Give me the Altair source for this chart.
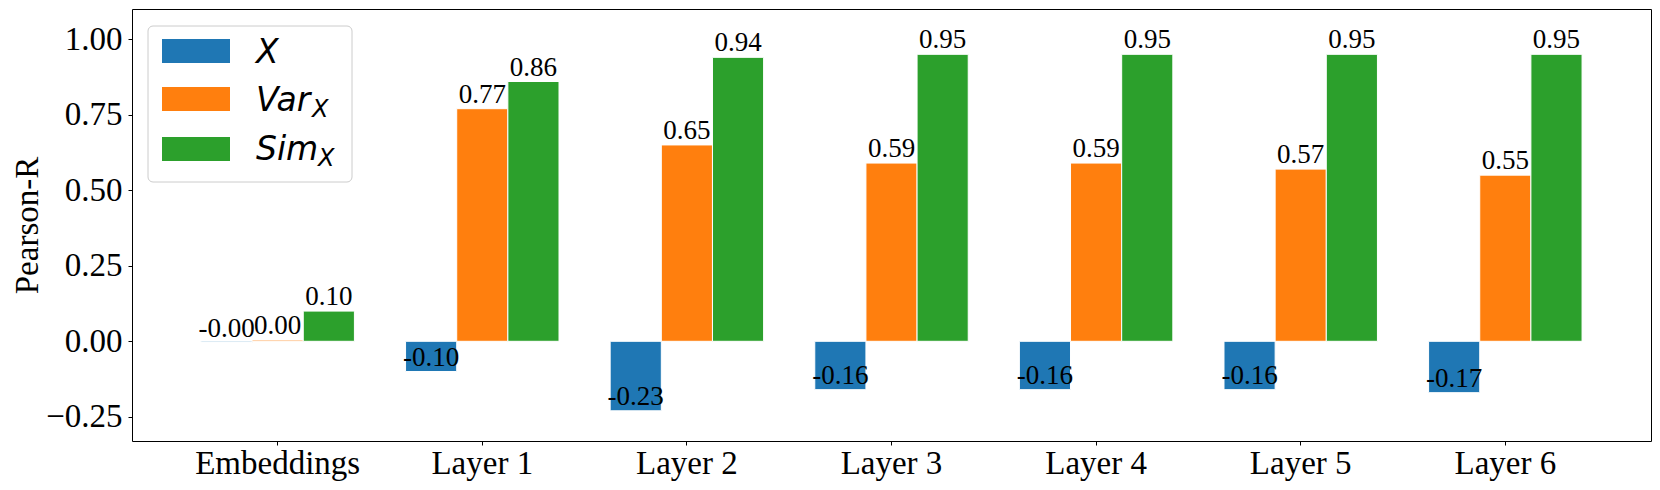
import altair as alt
import pandas as pd

categories = ["Embeddings", "Layer 1", "Layer 2", "Layer 3", "Layer 4", "Layer 5", "Layer 6"]
series = ["X", "Var_X", "Sim_X"]
colors = ["#1f77b4", "#ff7f0e", "#2ca02c"]
x_vals = [-0.004, -0.10, -0.23, -0.16, -0.16, -0.16, -0.17]
var_vals = [0.004, 0.77, 0.65, 0.59, 0.59, 0.57, 0.55]
sim_vals = [0.10, 0.86, 0.94, 0.95, 0.95, 0.95, 0.95]
y_ticks = [-0.25, 0.0, 0.25, 0.5, 0.75, 1.0]

rows = []
for s, vals in zip(series, [x_vals, var_vals, sim_vals]):
    for c, v in zip(categories, vals):
        rows.append({"layer": c, "series": s, "value": v, "label": "%.2f" % v})
df = pd.DataFrame(rows)

SERIF = "Liberation Serif"

x_enc = alt.X("layer:N", sort=categories,
              scale=alt.Scale(paddingInner=0.25, paddingOuter=0.337),
              axis=alt.Axis(title=None, labelAngle=0, tickSize=4, labelPadding=2,
                            labelFontSize=33, labelFont=SERIF))
xoff = alt.XOffset("series:N", sort=series)
y_enc = alt.Y("value:Q", scale=alt.Scale(domain=[-0.33, 1.1], nice=False, zero=False),
              axis=alt.Axis(values=y_ticks, format=".2f", title="Pearson-R",
                            tickSize=4, labelPadding=6, labelFontSize=33, labelFont=SERIF,
                            titleFont=SERIF, titleFontSize=33, titleFontWeight="normal",
                            titleAngle=-90, titleX=-95, titleY=216,
                            titleBaseline="alphabetic", titleAlign="center",
                            titleColor="black"))
color_enc = alt.Color("series:N", sort=series,
                      scale=alt.Scale(domain=series, range=colors), legend=None)

bars = alt.Chart(df).mark_bar(stroke="white", strokeWidth=1).encode(
    x=x_enc, xOffset=xoff, y=y_enc, y2=alt.datum(0), color=color_enc)

labels = alt.Chart(df).mark_text(font=SERIF, fontSize=27, color="black",
                                 baseline="alphabetic", align="center", dy=-6).encode(
    x=x_enc, xOffset=xoff, y=alt.Y("value:Q"), text="label:N")

one = pd.DataFrame({"k": [0]})
leg_box = alt.Chart(one).mark_rect(fill="white", fillOpacity=0.8, stroke="#cccccc",
                                   strokeWidth=1, cornerRadius=5).encode(
    x=alt.value(16), x2=alt.value(220), y=alt.value(17), y2=alt.value(173))

legend_layers = [leg_box]
sw_y = [(30, 54), (78, 102), (128, 152)]
main_txt = ["X", "Var", "Sim"]
base_y = [54, 102, 151]
sub_x = [None, 180, 186]
for i in range(3):
    legend_layers.append(alt.Chart(one).mark_rect(color=colors[i]).encode(
        x=alt.value(30), x2=alt.value(98), y=alt.value(sw_y[i][0]), y2=alt.value(sw_y[i][1])))
    legend_layers.append(alt.Chart(one).mark_text(
        text=main_txt[i], font="DejaVu Sans", fontStyle="italic", fontSize=33,
        align="left", baseline="alphabetic", color="black").encode(
        x=alt.value(124), y=alt.value(base_y[i])))
    if sub_x[i] is not None:
        legend_layers.append(alt.Chart(one).mark_text(
            text="X", font="DejaVu Sans", fontStyle="italic", fontSize=24,
            align="left", baseline="alphabetic", color="black").encode(
            x=alt.value(sub_x[i]), y=alt.value(base_y[i] + 6)))

chart = alt.layer(bars, labels, *legend_layers).properties(
    width=1519, height=432,
    autosize=alt.AutoSizeParams(type="none"),
    padding={"left": 124, "top": 1, "right": 1, "bottom": 46},
).configure_axis(
    grid=False, domain=False, labelColor="black", tickColor="black", tickWidth=1,
).configure_view(stroke="black", strokeWidth=1)

chart.save("out.html", embed_options={"renderer": "svg", "actions": False})
